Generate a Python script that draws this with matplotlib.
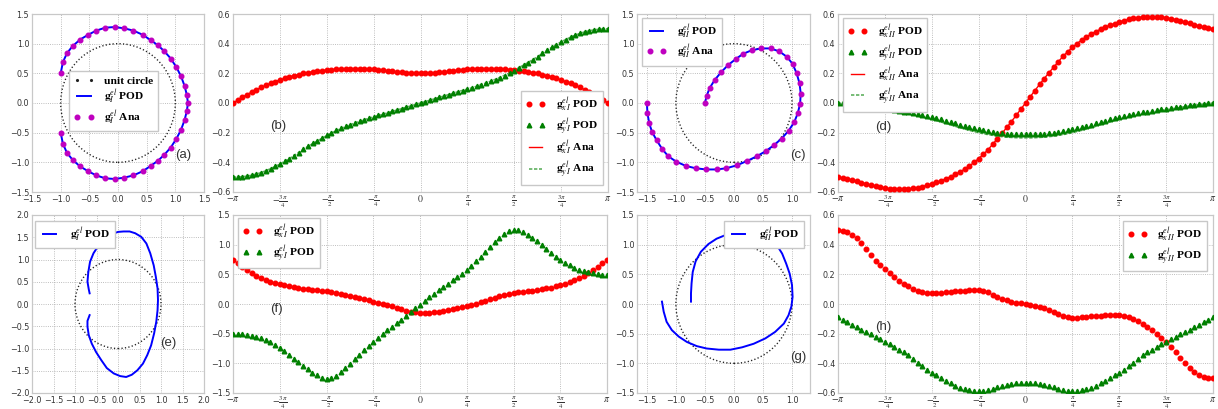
import numpy as np
import matplotlib
matplotlib.use('Agg')
import matplotlib.pyplot as plt
from matplotlib.patches import Circle
from matplotlib.lines import Line2D

plt.rcParams['font.family'] = ['DejaVu Sans']
plt.rcParams['mathtext.fontset'] = 'stix'

# ---------------- data ----------------
theta = np.linspace(-np.pi, np.pi, 81)

# (b) mode I components, POD
gxI_pod = [0.000, 0.019, 0.038, 0.057, 0.074, 0.090, 0.105, 0.119, 0.132, 0.144, 0.155, 0.166, 0.175, 0.184,
           0.192, 0.199, 0.205, 0.210, 0.215, 0.219, 0.222, 0.225, 0.228, 0.230, 0.231, 0.232, 0.232, 0.232,
           0.231, 0.229, 0.227, 0.224, 0.221, 0.217, 0.213, 0.210, 0.207, 0.204, 0.202, 0.201, 0.200,
           0.201, 0.202, 0.204, 0.207, 0.210, 0.213, 0.217, 0.221, 0.224, 0.227, 0.229, 0.231, 0.232, 0.232,
           0.232, 0.231, 0.230, 0.228, 0.225, 0.222, 0.219, 0.215, 0.210, 0.205, 0.199, 0.192, 0.184, 0.175,
           0.166, 0.155, 0.144, 0.132, 0.119, 0.105, 0.090, 0.074, 0.057, 0.038, 0.019, 0.000]
gyI_pod = [-0.500, -0.499, -0.497, -0.493, -0.487, -0.479, -0.469, -0.457, -0.443, -0.428, -0.412, -0.394,
           -0.375, -0.355, -0.334, -0.312, -0.291, -0.272, -0.254, -0.235, -0.217, -0.200, -0.185, -0.170,
           -0.157, -0.145, -0.133, -0.122, -0.112, -0.102, -0.093, -0.084, -0.075, -0.066, -0.057, -0.047,
           -0.038, -0.028, -0.019, -0.009, 0.000,
           0.009, 0.019, 0.028, 0.038, 0.047, 0.057, 0.066, 0.075, 0.084, 0.093, 0.102, 0.112, 0.122, 0.133,
           0.145, 0.157, 0.170, 0.185, 0.200, 0.217, 0.235, 0.254, 0.272, 0.291, 0.312, 0.334, 0.355, 0.375,
           0.394, 0.412, 0.428, 0.443, 0.457, 0.469, 0.479, 0.487, 0.493, 0.497, 0.499, 0.500]
# (b) analytic
gxI_ana = gxI_pod
gyI_ana = [-0.500, -0.499, -0.497, -0.493, -0.487, -0.479, -0.469, -0.457, -0.443, -0.428, -0.412, -0.394,
           -0.375, -0.355, -0.334, -0.313, -0.293, -0.274, -0.256, -0.238, -0.220, -0.203, -0.188, -0.173,
           -0.160, -0.147, -0.135, -0.124, -0.113, -0.103, -0.094, -0.085, -0.076, -0.066, -0.057, -0.047,
           -0.038, -0.028, -0.019, -0.009, 0.000,
           0.009, 0.019, 0.028, 0.038, 0.047, 0.057, 0.066, 0.076, 0.085, 0.094, 0.103, 0.113, 0.124, 0.135,
           0.147, 0.160, 0.173, 0.188, 0.203, 0.220, 0.238, 0.256, 0.274, 0.293, 0.313, 0.334, 0.355, 0.375,
           0.394, 0.412, 0.428, 0.443, 0.457, 0.469, 0.479, 0.487, 0.493, 0.497, 0.499, 0.500]

# (d) mode II components, POD
gxII_pod = [-0.500, -0.505, -0.511, -0.519, -0.527, -0.536, -0.545, -0.554, -0.562, -0.569, -0.575, -0.579,
            -0.582, -0.583, -0.582, -0.580, -0.576, -0.570, -0.563, -0.555, -0.546, -0.535, -0.524, -0.511,
            -0.497, -0.482, -0.465, -0.446, -0.425, -0.401, -0.375, -0.346, -0.315, -0.278, -0.241, -0.204,
            -0.165, -0.125, -0.084, -0.042, 0.000,
            0.042, 0.084, 0.125, 0.165, 0.204, 0.241, 0.278, 0.315, 0.346, 0.375, 0.401, 0.425, 0.446, 0.465,
            0.482, 0.497, 0.511, 0.524, 0.535, 0.546, 0.555, 0.563, 0.570, 0.576, 0.580, 0.582, 0.583, 0.582,
            0.579, 0.575, 0.569, 0.562, 0.554, 0.545, 0.536, 0.527, 0.519, 0.511, 0.505, 0.500]
gyII_pod = [0.000, -0.002, -0.005, -0.008, -0.011, -0.015, -0.019, -0.024, -0.028, -0.033, -0.038, -0.043,
            -0.048, -0.053, -0.058, -0.063, -0.069, -0.075, -0.081, -0.088, -0.095, -0.102, -0.110, -0.119,
            -0.128, -0.137, -0.146, -0.154, -0.162, -0.170, -0.177, -0.184, -0.190, -0.195, -0.200, -0.204,
            -0.207, -0.209, -0.211, -0.212, -0.212,
            -0.212, -0.211, -0.209, -0.207, -0.204, -0.200, -0.195, -0.190, -0.184, -0.177, -0.170, -0.162,
            -0.154, -0.146, -0.137, -0.128, -0.119, -0.110, -0.102, -0.095, -0.088, -0.081, -0.075, -0.069,
            -0.063, -0.058, -0.053, -0.048, -0.043, -0.038, -0.033, -0.028, -0.024, -0.019, -0.015, -0.011,
            -0.008, -0.005, -0.002, 0.000]
# (d) analytic
gxII_ana = gxII_pod
gyII_ana = [0.000, -0.003, -0.007, -0.011, -0.015, -0.020, -0.025, -0.030, -0.035, -0.040, -0.045, -0.050,
            -0.055, -0.061, -0.067, -0.073, -0.080, -0.087, -0.094, -0.102, -0.110, -0.119, -0.128, -0.137,
            -0.147, -0.157, -0.166, -0.175, -0.184, -0.192, -0.200, -0.207, -0.213, -0.218, -0.223, -0.227,
            -0.230, -0.232, -0.234, -0.235, -0.235,
            -0.235, -0.234, -0.232, -0.230, -0.227, -0.223, -0.218, -0.213, -0.207, -0.200, -0.192, -0.184,
            -0.175, -0.166, -0.157, -0.147, -0.137, -0.128, -0.119, -0.110, -0.102, -0.094, -0.087, -0.080,
            -0.073, -0.067, -0.061, -0.055, -0.050, -0.045, -0.040, -0.035, -0.030, -0.025, -0.020, -0.015,
            -0.011, -0.007, -0.003, 0.000]

# (f) mode I components, second case
gxI_f = [0.750, 0.690, 0.630, 0.575, 0.525, 0.480, 0.440, 0.405, 0.378, 0.355, 0.335, 0.318, 0.302, 0.287,
         0.273, 0.261, 0.250, 0.240, 0.231, 0.222, 0.212, 0.202, 0.190, 0.176, 0.160, 0.143, 0.124, 0.104,
         0.083, 0.062, 0.041, 0.020, 0.000, -0.020, -0.040, -0.060, -0.085, -0.110, -0.128, -0.140, -0.146,
         -0.148, -0.146, -0.140, -0.130, -0.118, -0.103, -0.087, -0.070, -0.052, -0.034, -0.015, 0.008, 0.030,
         0.055, 0.080, 0.105, 0.128, 0.150, 0.168, 0.182, 0.194, 0.205, 0.215, 0.225, 0.236, 0.248, 0.262,
         0.278, 0.296, 0.316, 0.340, 0.368, 0.400, 0.435, 0.472, 0.515, 0.565, 0.620, 0.683, 0.750]
gyI_f = [-0.500, -0.502, -0.508, -0.518, -0.532, -0.550, -0.575, -0.605, -0.640, -0.690, -0.745, -0.800,
         -0.860, -0.920, -0.980, -1.040, -1.100, -1.155, -1.205, -1.245, -1.265, -1.250, -1.210, -1.150,
         -1.080, -1.005, -0.930, -0.855, -0.780, -0.705, -0.635, -0.565, -0.500, -0.440, -0.380, -0.325,
         -0.265, -0.200, -0.135, -0.070, -0.010,
         0.050, 0.110, 0.170, 0.228, 0.285, 0.342, 0.398, 0.450, 0.510, 0.570, 0.645, 0.720, 0.800, 0.880,
         0.955, 1.040, 1.115, 1.180, 1.225, 1.250, 1.245, 1.215, 1.170, 1.115, 1.055, 0.990, 0.925, 0.860,
         0.800, 0.745, 0.695, 0.650, 0.610, 0.578, 0.552, 0.532, 0.516, 0.504, 0.496, 0.492]

# (h) mode II components, second case
gxII_h = [0.500, 0.494, 0.484, 0.466, 0.442, 0.408, 0.370, 0.330, 0.292, 0.262, 0.236, 0.208, 0.182, 0.158,
          0.137, 0.118, 0.102, 0.090, 0.081, 0.076, 0.074, 0.074, 0.076, 0.079, 0.082, 0.085, 0.088, 0.091,
          0.093, 0.094, 0.093, 0.088, 0.078, 0.064, 0.048, 0.034, 0.024, 0.016, 0.010, 0.005, 0.000,
          -0.006, -0.012, -0.019, -0.028, -0.040, -0.054, -0.068, -0.080, -0.088, -0.092, -0.092, -0.090,
          -0.087, -0.084, -0.081, -0.078, -0.076, -0.075, -0.075, -0.077, -0.082, -0.090, -0.101, -0.116,
          -0.134, -0.155, -0.178, -0.203, -0.230, -0.258, -0.290, -0.325, -0.362, -0.398, -0.432, -0.460,
          -0.480, -0.492, -0.498, -0.502]
gyII_h = [-0.090, -0.106, -0.122, -0.139, -0.155, -0.172, -0.188, -0.204, -0.221, -0.238, -0.255, -0.272,
          -0.289, -0.307, -0.326, -0.347, -0.370, -0.395, -0.420, -0.443, -0.464, -0.482, -0.500, -0.518,
          -0.535, -0.550, -0.563, -0.575, -0.583, -0.588, -0.589, -0.586, -0.579, -0.570, -0.561, -0.552,
          -0.545, -0.539, -0.535, -0.533, -0.532,
          -0.533, -0.535, -0.539, -0.545, -0.552, -0.561, -0.570, -0.579, -0.586, -0.589, -0.588, -0.583,
          -0.575, -0.563, -0.550, -0.535, -0.518, -0.500, -0.482, -0.464, -0.443, -0.420, -0.395, -0.370,
          -0.347, -0.326, -0.307, -0.289, -0.272, -0.255, -0.238, -0.221, -0.204, -0.188, -0.172, -0.155,
          -0.139, -0.122, -0.106, -0.090]

# (a) deformed contour, mode I
a_x = [-1.00, -0.96, -0.89, -0.79, -0.66, -0.52, -0.38, -0.22, -0.06, 0.10, 0.27, 0.43, 0.57, 0.70, 0.81,
       0.92, 1.02, 1.10, 1.16, 1.20, 1.22, 1.20, 1.16, 1.10, 1.02, 0.92, 0.81, 0.70, 0.57, 0.43, 0.27, 0.10,
       -0.06, -0.22, -0.38, -0.52, -0.66, -0.79, -0.89, -0.96, -1.00]
a_y = [-0.50, -0.69, -0.84, -0.96, -1.07, -1.15, -1.22, -1.27, -1.28, -1.26, -1.22, -1.15, -1.06, -0.97,
       -0.87, -0.75, -0.60, -0.45, -0.29, -0.14, 0.00, 0.14, 0.29, 0.45, 0.60, 0.75, 0.87, 0.97, 1.06, 1.15,
       1.22, 1.26, 1.28, 1.27, 1.22, 1.15, 1.07, 0.96, 0.84, 0.69, 0.50]

# (c) deformed contour, mode II
c_x = [-1.50, -1.49, -1.46, -1.41, -1.33, -1.24, -1.13, -0.99, -0.83, -0.66, -0.48, -0.30, -0.13, 0.05,
       0.22, 0.39, 0.55, 0.69, 0.82, 0.94, 1.04, 1.10, 1.14, 1.15, 1.13, 1.08, 1.01, 0.91, 0.78, 0.63, 0.47,
       0.31, 0.16, 0.03, -0.10, -0.22, -0.33, -0.42, -0.47, -0.50]
c_y = [0.00, -0.17, -0.34, -0.49, -0.63, -0.77, -0.90, -0.99, -1.06, -1.10, -1.12, -1.12, -1.10, -1.05,
       -0.98, -0.90, -0.81, -0.71, -0.60, -0.47, -0.32, -0.17, -0.01, 0.16, 0.33, 0.50, 0.66, 0.78, 0.87,
       0.92, 0.92, 0.89, 0.83, 0.74, 0.64, 0.52, 0.39, 0.25, 0.12, 0.00]

# (e) deformed contour, mode I second case
e_x = [-0.66, -0.71, -0.71, -0.68, -0.61, -0.51, -0.39, -0.26, -0.10, 0.05, 0.19, 0.32, 0.45, 0.58, 0.68,
       0.77, 0.84, 0.89, 0.92, 0.93, 0.92, 0.88, 0.83, 0.75, 0.66, 0.54, 0.40, 0.27, 0.13, 0.00, -0.12,
       -0.24, -0.37, -0.47, -0.57, -0.65, -0.69, -0.71, -0.68, -0.66]
e_y = [-0.25, -0.38, -0.51, -0.70, -0.89, -1.08, -1.26, -1.44, -1.56, -1.62, -1.64, -1.59, -1.49, -1.34,
       -1.15, -0.93, -0.66, -0.40, -0.14, 0.09, 0.35, 0.61, 0.87, 1.14, 1.36, 1.51, 1.59, 1.63, 1.63, 1.62,
       1.58, 1.50, 1.40, 1.29, 1.14, 0.95, 0.72, 0.50, 0.33, 0.24]

# (g) deformed contour, mode II second case
g_x = [-1.24, -1.21, -1.16, -1.07, -0.95, -0.81, -0.64, -0.47, -0.26, -0.06, 0.14, 0.34, 0.54, 0.71, 0.86,
       0.94, 0.99, 1.01, 1.00, 0.96, 0.90, 0.83, 0.74, 0.60, 0.42, 0.22, 0.02, -0.15, -0.30, -0.44, -0.57,
       -0.66, -0.71, -0.73, -0.74, -0.74]
g_y = [0.04, -0.13, -0.30, -0.44, -0.55, -0.64, -0.71, -0.75, -0.77, -0.77, -0.73, -0.67, -0.58, -0.47,
       -0.33, -0.19, -0.04, 0.12, 0.32, 0.51, 0.68, 0.85, 0.99, 1.10, 1.18, 1.21, 1.20, 1.16, 1.10, 1.01,
       0.88, 0.72, 0.54, 0.35, 0.18, 0.04]

pi_labels = [r'$-\pi$', r'$-\frac{3\pi}{4}$', r'$-\frac{\pi}{2}$', r'$-\frac{\pi}{4}$', r'$0$',
             r'$\frac{\pi}{4}$', r'$\frac{\pi}{2}$', r'$\frac{3\pi}{4}$', r'$\pi$']

# ---------------- figure ----------------
W, H = 1218, 409
fig = plt.figure(figsize=(W / 100, H / 100), dpi=100)


def box(l, t, r, b):
    return [l / W, 1 - b / H, (r - l) / W, (b - t) / H]


def style(ax):
    ax.grid(True, ls=':', color='#a8a8a8', lw=0.6)
    ax.set_axisbelow(True)
    for s in ax.spines.values():
        s.set_color('#c8c8c8')
        s.set_linewidth(0.9)
    ax.tick_params(length=0, labelsize=5.8, colors='#333333', pad=2)


LEG = dict(numpoints=2, handlelength=1.75, handletextpad=0.9, borderpad=0.4, labelspacing=0.2,
           fancybox=False, framealpha=1, edgecolor='#c8c8c8', borderaxespad=0,
           prop={'family': ['Liberation Serif'], 'weight': 'bold', 'size': 8.2})


def panel_label(ax, x, y, s):
    ax.text(x, y, s, transform=ax.transAxes, ha='center', va='center', fontsize=9.5,
            family=['Liberation Sans'], color='#333333')


def circle_ax(ax, xlim, ylim, xt, yt):
    style(ax)
    ax.add_patch(Circle((0, 0), 1.0, fill=False, color='#222222', lw=1.0, ls=(0, (0.9, 1.6)), zorder=2))
    ax.set_xlim(*xlim)
    ax.set_ylim(*ylim)
    ax.set_xticks(xt)
    ax.set_yticks(yt)


def theta_ax(ax, ylim, yt):
    style(ax)
    ax.set_xlim(-np.pi, np.pi)
    ax.set_ylim(*ylim)
    ax.set_xticks(np.arange(-4, 5) * np.pi / 4)
    ax.set_xticklabels(pi_labels, fontsize=7)
    ax.tick_params(axis='x', pad=1)
    ax.set_yticks(yt)


circ_handle = Line2D([], [], ls='none', marker='.', ms=2.5, color='#222222', label='unit circle')
RED = '#ff0000'
GRN = '#008000'
MS = 3.3

# (a)
ax = fig.add_axes(box(32, 14, 204, 192))
circle_ax(ax, (-1.5, 1.5), (-1.5, 1.5), np.arange(-1.5, 1.51, 0.5), np.arange(-1.5, 1.51, 0.5))
l1, = ax.plot(a_x, a_y, color='b', lw=1.4, label=r'$\mathbf{g}^{el}_{I}$ POD', zorder=3)
l2, = ax.plot(a_x, a_y, ls='none', marker='o', ms=MS, color='m', mec='m', label=r'$\mathbf{g}^{el}_{I}$ Ana', zorder=4)
ax.legend(handles=[circ_handle, l1, l2], loc='center', bbox_to_anchor=(0.475, 0.51), **LEG)
panel_label(ax, 0.88, 0.21, '(a)')

# (b)
ax = fig.add_axes(box(233, 14, 608, 192))
theta_ax(ax, (-0.6, 0.6), np.arange(-0.6, 0.61, 0.2))
ax.plot(theta, gxI_pod, ls='none', marker='o', ms=MS, color=RED, mec=RED, label=r'$\mathbf{g}^{el}_{x\;I}$ POD', zorder=4)
ax.plot(theta, gyI_pod, ls='none', marker='^', ms=MS, color=GRN, mec=GRN, label=r'$\mathbf{g}^{el}_{y\;I}$ POD', zorder=4)
ax.plot(theta, gxI_ana, color=RED, lw=1.0, label=r'$\mathbf{g}^{el}_{x\;I}$ Ana', zorder=3)
ax.plot(theta, gyI_ana, color='#60b060', lw=1.2, ls=(0, (2, 1)), label=r'$\mathbf{g}^{el}_{y\;I}$ Ana', zorder=3)
ax.legend(loc='lower right', bbox_to_anchor=(0.987, 0.04), **LEG)
panel_label(ax, 0.12, 0.37, '(b)')

# (c)
ax = fig.add_axes(box(637, 14, 810, 192))
circle_ax(ax, (-1.67, 1.31), (-1.5, 1.5), np.arange(-1.5, 1.01, 0.5), np.arange(-1.5, 1.51, 0.5))
ax.plot(c_x, c_y, color='b', lw=1.4, label=r'$\mathbf{g}^{el}_{II}$ POD', zorder=3)
ax.plot(c_x, c_y, ls='none', marker='o', ms=MS, color='m', mec='m', label=r'$\mathbf{g}^{el}_{II}$ Ana', zorder=4)
ax.legend(loc='upper left', bbox_to_anchor=(0.03, 0.978), **LEG)
panel_label(ax, 0.93, 0.21, '(c)')

# (d)
ax = fig.add_axes(box(838, 14, 1213, 192))
theta_ax(ax, (-0.6, 0.6), np.arange(-0.6, 0.61, 0.2))
ax.plot(theta, gxII_pod, ls='none', marker='o', ms=MS, color=RED, mec=RED, label=r'$\mathbf{g}^{el}_{x\;II}$ POD', zorder=4)
ax.plot(theta, gyII_pod, ls='none', marker='^', ms=MS, color=GRN, mec=GRN, label=r'$\mathbf{g}^{el}_{y\;II}$ POD', zorder=4)
ax.plot(theta, gxII_ana, color=RED, lw=1.0, label=r'$\mathbf{g}^{el}_{x\;II}$ Ana', zorder=3)
ax.plot(theta, gyII_ana, color='#60b060', lw=1.2, ls=(0, (2, 1)), label=r'$\mathbf{g}^{el}_{y\;II}$ Ana', zorder=3)
ax.legend(loc='upper left', bbox_to_anchor=(0.013, 0.978), **LEG)
panel_label(ax, 0.12, 0.365, '(d)')

# (e)
ax = fig.add_axes(box(32, 215, 204, 393))
circle_ax(ax, (-2, 2), (-2, 2), np.arange(-2, 2.01, 0.5), np.arange(-2, 2.01, 0.5))
ax.plot(e_x, e_y, color='b', lw=1.4, label=r'$\mathbf{g}^{el}_{I}$ POD', zorder=3)
ax.legend(loc='upper left', bbox_to_anchor=(0.017, 0.966), **LEG)
panel_label(ax, 0.79, 0.28, '(e)')

# (f)
ax = fig.add_axes(box(233, 215, 607, 393))
theta_ax(ax, (-1.5, 1.5), np.arange(-1.5, 1.51, 0.5))
ax.plot(theta, gxI_f, ls='none', marker='o', ms=MS, color=RED, mec=RED, label=r'$\mathbf{g}^{el}_{x\;I}$ POD', zorder=4)
ax.plot(theta, gyI_f, ls='none', marker='^', ms=MS, color=GRN, mec=GRN, label=r'$\mathbf{g}^{el}_{y\;I}$ POD', zorder=4)
ax.legend(loc='upper left', bbox_to_anchor=(0.013, 0.983), **LEG)
panel_label(ax, 0.117, 0.47, '(f)')

# (g)
ax = fig.add_axes(box(637, 215, 810, 393))
circle_ax(ax, (-1.67, 1.31), (-1.5, 1.5), np.arange(-1.5, 1.01, 0.5), np.arange(-1.5, 1.51, 0.5))
ax.plot(g_x, g_y, color='b', lw=1.4, label=r'$\mathbf{g}^{el}_{II}$ POD', zorder=3)
ax.legend(loc='upper right', bbox_to_anchor=(0.965, 0.966), **LEG)
panel_label(ax, 0.93, 0.2, '(g)')

# (h)
ax = fig.add_axes(box(838, 215, 1213, 393))
theta_ax(ax, (-0.6, 0.6), np.arange(-0.6, 0.61, 0.2))
ax.plot(theta, gxII_h, ls='none', marker='o', ms=MS, color=RED, mec=RED, label=r'$\mathbf{g}^{el}_{x\;II}$ POD', zorder=4)
ax.plot(theta, gyII_h, ls='none', marker='^', ms=MS, color=GRN, mec=GRN, label=r'$\mathbf{g}^{el}_{y\;II}$ POD', zorder=4)
ax.legend(loc='upper right', bbox_to_anchor=(0.984, 0.966), **LEG)
panel_label(ax, 0.12, 0.37, '(h)')

fig.savefig('out.png', dpi=100)
